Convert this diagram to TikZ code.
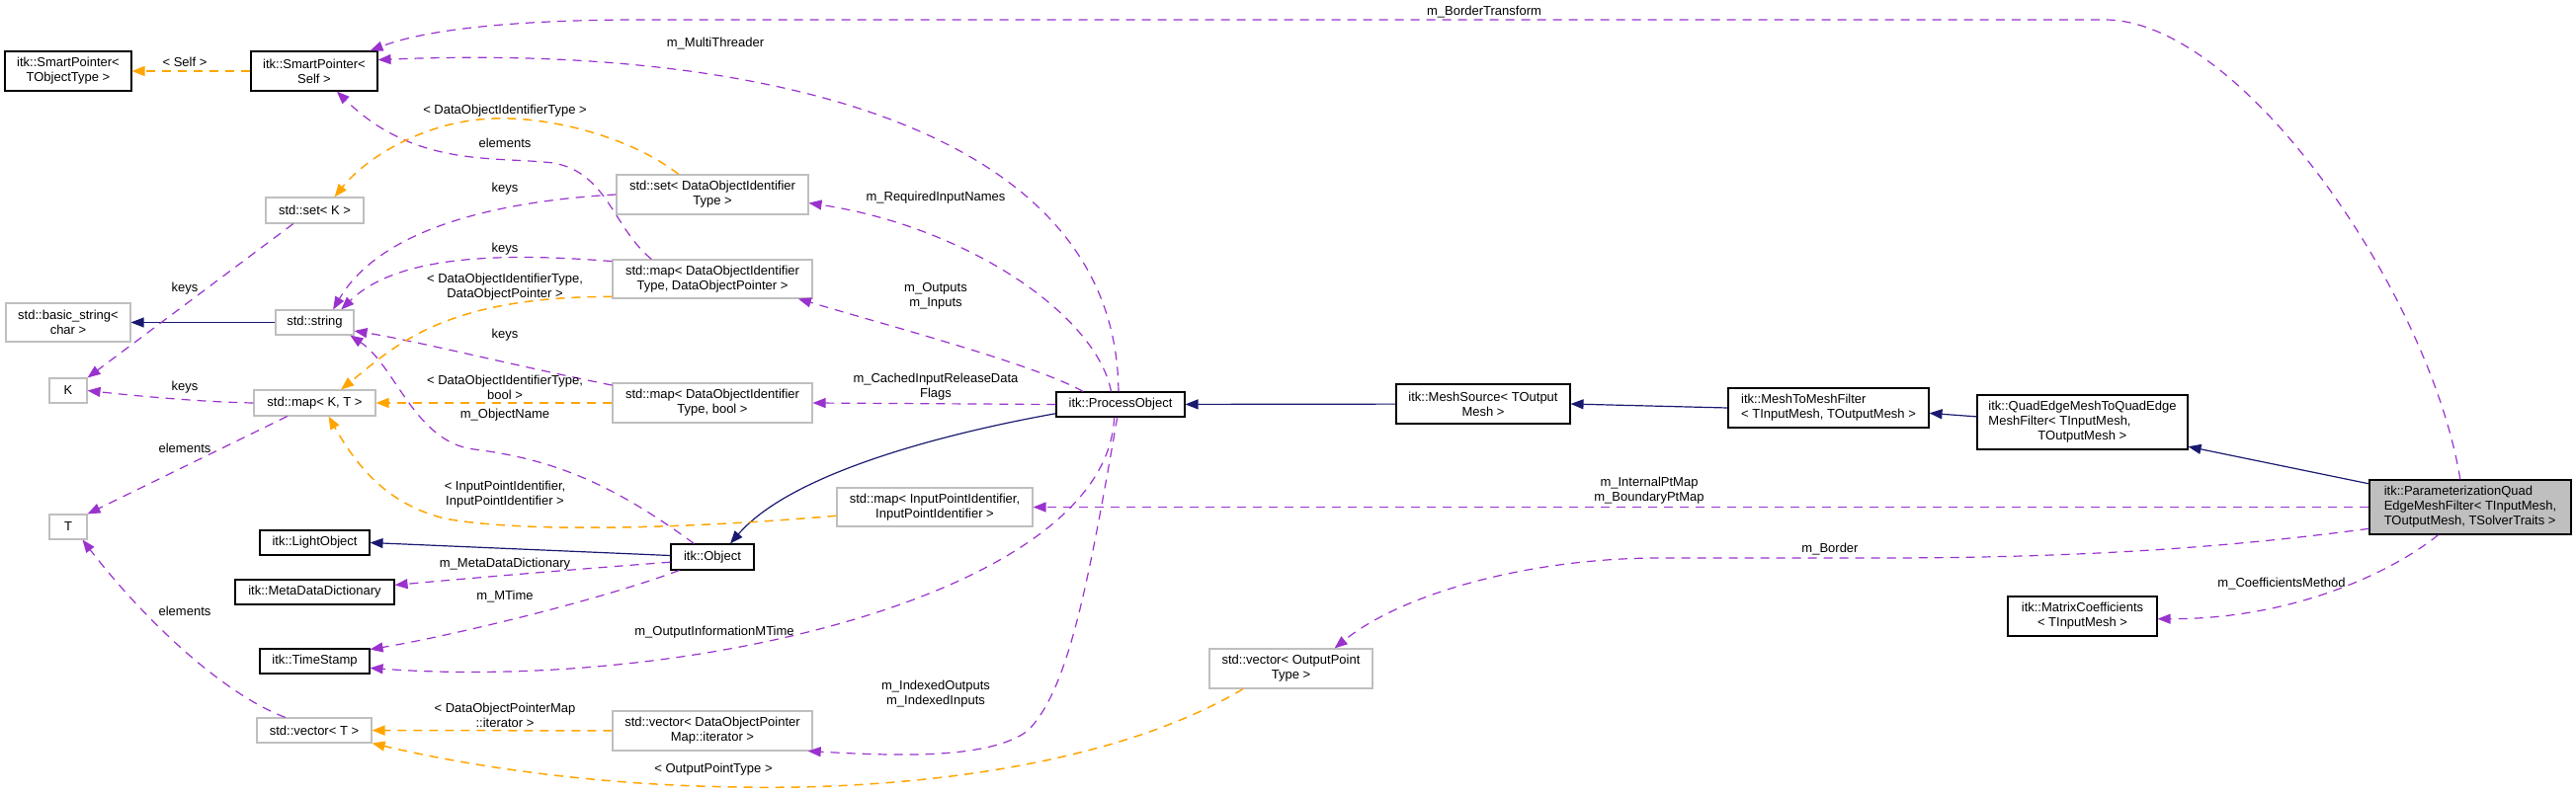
\documentclass[tikz,border=0pt]{standalone}
\usepackage{fontspec}
\setmainfont{Liberation Sans}
\usepackage{xcolor}
\usetikzlibrary{arrows.meta}
\definecolor{inheritblue}{HTML}{191970}
\definecolor{usagepurple}{HTML}{9A32CD}
\definecolor{tmplorange}{HTML}{FFA500}
\definecolor{extgray}{HTML}{BFBFBF}

\begin{document}
\begin{tikzpicture}[x=1pt, y=-1pt,
    font=\fontsize{13}{15}\selectfont,
    sz/.style 2 args={minimum width=#1pt, minimum height=#2pt},
    docbox/.style={draw=black, line width=1.1pt, fill=white, inner sep=2pt, align=center},
    extbox/.style={draw=extgray, line width=1.1pt, fill=white, inner sep=2pt, align=center},
    lbl/.style={inner sep=0pt, align=center},
    inherit/.style={draw=inheritblue, line width=1.2pt, -{Triangle[length=13pt, width=10pt]}},
    usage/.style={draw=usagepurple, line width=1.2pt, dash pattern=on 9pt off 7pt, -{Triangle[length=13pt, width=10pt]}},
    tmpl/.style={draw=tmplorange, line width=1.5pt, dash pattern=on 9pt off 7pt, -{Triangle[length=13pt, width=10pt]}}]
    \useasboundingbox (0,0) rectangle (2607,805);

    % Left column
    \node[docbox, sz={128}{40}] (sptobj) at (69,72) {itk::SmartPointer<\\TObjectType >};
    \node[extbox, sz={126}{39}] (bstring) at (69,326.5) {std::basic\_string<\\char >};
    \node[extbox, sz={38}{25}] (kk) at (69,395.5) {K};
    \node[extbox, sz={38}{25}] (tt) at (69,533.5) {T};

    % Second column
    \node[docbox, sz={128}{40}] (spself) at (318,72) {itk::SmartPointer<\\Self >};
    \node[extbox, sz={99}{26}] (setk) at (318.5,213) {std::set< K >};
    \node[extbox, sz={79}{25}] (sstring) at (318.5,326.5) {std::string};
    \node[extbox, sz={123}{26}] (mapkt) at (318.5,408) {std::map< K, T >};
    \node[docbox, sz={111}{25}] (light) at (318.5,549.5) {itk::LightObject};
    \node[docbox, sz={161}{25}] (mdd) at (318.5,599.5) {itk::MetaDataDictionary};
    \node[docbox, sz={111}{25}] (tstamp) at (318.5,669.5) {itk::TimeStamp};
    \node[extbox, sz={116}{25}] (vect) at (318,739.5) {std::vector< T >};

    % Third column
    \node[extbox, sz={194}{40}] (setdoit) at (721,197) {std::set< DataObjectIdentifier\\Type >};
    \node[extbox, sz={202}{39}] (mapdop) at (721,282.5) {std::map< DataObjectIdentifier\\Type, DataObjectPointer >};
    \node[extbox, sz={202}{40}] (mapbool) at (721,408) {std::map< DataObjectIdentifier\\Type, bool >};
    \node[docbox, sz={84}{26}] (object) at (721,564) {itk::Object};
    \node[extbox, sz={202}{40}] (vecdopmi) at (721,740) {std::vector< DataObjectPointer\\Map::iterator >};
    \node[extbox, sz={198}{39}] (mapipi) at (946,513.5) {std::map< InputPointIdentifier,\\InputPointIdentifier >};

    % Filter chain
    \node[docbox, sz={130}{25}] (procobj) at (1134,409.5) {itk::ProcessObject};
    \node[extbox, sz={165}{40}] (vecopt) at (1306.5,677) {std::vector< OutputPoint\\Type >};
    \node[docbox, sz={176}{40}] (meshsrc) at (1501,409) {itk::MeshSource< TOutput\\Mesh >};
    \node[docbox, sz={203}{40}, align=left] (m2m) at (1850.5,413) {itk::MeshToMeshFilter\\< TInputMesh, TOutputMesh >};
    \node[docbox, sz={213}{55}, align=left] (qe) at (2107.5,427.5) {itk::QuadEdgeMeshToQuadEdge\\MeshFilter< TInputMesh,\\\hspace*{50pt}TOutputMesh >};
    \node[docbox, sz={151}{40}] (matcoef) at (2107.5,624) {itk::MatrixCoefficients\\< TInputMesh >};
    \node[docbox, sz={204}{55}, align=left, fill=extgray] (param) at (2500,513.5) {itk::ParameterizationQuad\\EdgeMeshFilter< TInputMesh,\\ TOutputMesh, TSolverTraits >};

    % Inheritance
    \draw[inherit] (sstring) -- (bstring);
    \draw[inherit] (object.178) -- (light.east);
    \draw[inherit] (procobj.188) .. controls (950,440) and (800,480) .. (object.37);
    \draw[inherit] (meshsrc) -- (procobj);
    \draw[inherit] (m2m.west) -- (meshsrc.east);
    \draw[inherit] (qe.177) -- (m2m.357);
    \draw[inherit] (param.167) -- (qe.-13);

    % Members
    \draw[usage] (param.110) .. controls (2460,300) and (2270,20) .. (2130,20) -- (650,20) .. controls (520,20) and (430,30) .. (spself.20)
        node[lbl] at (1502,12) {m\_BorderTransform};
    \draw[usage] (procobj.99) .. controls (1130,120) and (750,45) .. (spself.10)
        node[lbl] at (724,44) {m\_MultiThreader};
    \draw[usage] (procobj.126) .. controls (1110,320) and (980,230) .. (setdoit.-5)
        node[lbl] at (947,200) {m\_RequiredInputNames};
    \draw[usage] (procobj.161) .. controls (1050,370) and (900,330) .. (mapdop.-13)
        node[lbl] at (947,300) {m\_Outputs\\m\_Inputs};
    \draw[usage] (procobj.west) -- (mapbool.east)
        node[lbl] at (947,392) {m\_CachedInputReleaseData\\Flags};
    \draw[usage] (procobj.244) .. controls (1120,600) and (700,700) .. (tstamp.-7)
        node[lbl] at (723,640) {m\_OutputInformationMTime};
    \draw[usage] (procobj.256) .. controls (1100,600) and (1080,700) .. (1040,740) .. controls (1000,770) and (900,765) .. (vecdopmi.-12)
        node[lbl] at (947,703) {m\_IndexedOutputs\\m\_IndexedInputs};
    \draw[usage] (object.202) .. controls (600,610) and (450,645) .. (tstamp.12)
        node[lbl] at (511,604) {m\_MTime};
    \draw[usage] (object.187) .. controls (600,575) and (480,585) .. (mdd.5)
        node[lbl] at (511,571) {m\_MetaDataDictionary};
    \draw[usage] (object.144) .. controls (620,490) and (560,465) .. (480,455) .. controls (420,448) and (400,370) .. (sstring.-20)
        node[lbl] at (511,420) {m\_ObjectName};
    \draw[usage] (setdoit.west) .. controls (480,205) and (380,240) .. (sstring.35)
        node[lbl] at (511,191) {keys};
    \draw[usage] (mapdop.170) .. controls (500,255) and (400,260) .. (sstring.26)
        node[lbl] at (511,252) {keys};
    \draw[usage] (mapbool.170) .. controls (520,370) and (420,345) .. (sstring.-12)
        node[lbl] at (511,339) {keys};
    \draw[usage] (mapdop.162) .. controls (620,230) and (615,175) .. (560,165) .. controls (500,158) and (420,170) .. (spself.-42)
        node[lbl] at (511,145) {elements};
    \draw[usage] (mapkt.west) .. controls (200,407) and (130,400) .. (kk.east)
        node[lbl] at (187,392) {keys};
    \draw[usage] (setk.212) -- (kk.north east)
        node[lbl] at (187,292) {keys};
    \draw[usage] (mapkt.206) -- (tt.north east)
        node[lbl] at (187,454) {elements};
    \draw[usage] (vect.156) .. controls (220,700) and (140,620) .. (tt.-42)
        node[lbl] at (187,619) {elements};
    \draw[usage] (param.west) -- (mapipi.east)
        node[lbl] at (1669,497) {m\_InternalPtMap\\m\_BoundaryPtMap};
    \draw[usage] (param.192) .. controls (2250,555) and (2100,565) .. (1900,565) -- (1680,565) .. controls (1550,565) and (1420,600) .. (vecopt.25)
        node[lbl] at (1852,556) {m\_Border};
    \draw[usage] (param.221) .. controls (2420,580) and (2320,627) .. (matcoef.-2)
        node[lbl] at (2309,591) {m\_CoefficientsMethod};

    % Template arguments
    \draw[tmpl] (spself) -- (sptobj)
        node[lbl] at (187,63) {< Self >};
    \draw[tmpl] (setdoit.149) .. controls (640,140) and (560,118) .. (500,120) .. controls (430,122) and (370,160) .. (setk.34)
        node[lbl] at (511,112) {< DataObjectIdentifierType >};
    \draw[tmpl] (mapdop.190) .. controls (450,300) and (400,350) .. (mapkt.27)
        node[lbl] at (511,291) {< DataObjectIdentifierType,\\DataObjectPointer >};
    \draw[tmpl] (mapbool) -- (mapkt)
        node[lbl] at (511,392) {< DataObjectIdentifierType,\\bool >};
    \draw[tmpl] (mapipi.185) .. controls (700,535) and (530,540) .. (450,525) .. controls (390,510) and (360,470) .. (mapkt.-44)
        node[lbl] at (511,501) {< InputPointIdentifier,\\InputPointIdentifier >};
    \draw[tmpl] (vecdopmi) -- (vect)
        node[lbl] at (511,724) {< DataObjectPointerMap\\::iterator >};
    \draw[tmpl] (vecopt.203) .. controls (1120,780) and (900,800) .. (750,797) .. controls (580,795) and (450,770) .. (vect.south east)
        node[lbl] at (722,779) {< OutputPointType >};
\end{tikzpicture}
\end{document}
